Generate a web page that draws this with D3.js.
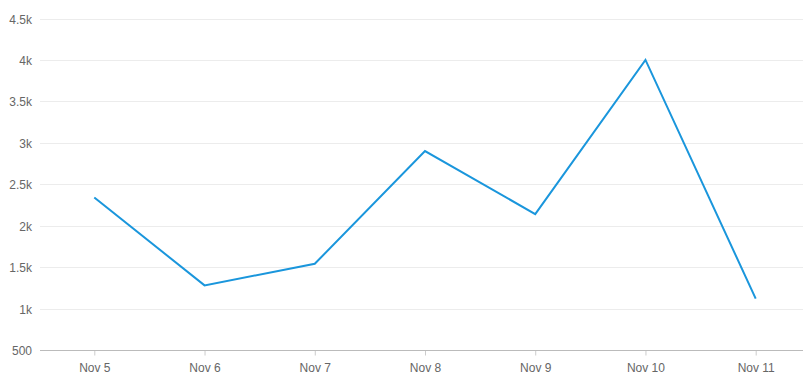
<!DOCTYPE html>
<html><head><meta charset="utf-8">
<script src="https://cdn.jsdelivr.net/npm/d3@7"></script>
<style>body{margin:0;background:#fff}svg{display:block;font-family:"Liberation Sans",Arial,sans-serif}</style>
</head><body><svg id="c" width="803" height="387"></svg>
<script>
const categories = ["Nov 5","Nov 6","Nov 7","Nov 8","Nov 9","Nov 10","Nov 11"];
const values = [2340, 1280, 1540, 2900, 2140, 4000, 1120];
const yTicks = [500,1000,1500,2000,2500,3000,3500,4000,4500];
const yTickLabels = ["500","1k","1.5k","2k","2.5k","3k","3.5k","4k","4.5k"];

(function(){
const svg = d3.select("#c");
const mLeft = 40, mRight = 803, mTop = 18.5, mBottom = 350;
const x = d3.scalePoint().domain(categories).range([94.3, 755.7]);
const y = d3.scaleLinear().domain([500, 4500]).range([mBottom, mTop]);

// grid
svg.append("g").selectAll("line").data(yTicks.slice(1)).join("line")
  .attr("x1", mLeft).attr("x2", mRight)
  .attr("y1", d => Math.round(y(d)) + 0.5).attr("y2", d => Math.round(y(d)) + 0.5)
  .attr("stroke", "#ececec").attr("stroke-width", 1);

// y labels
svg.append("g").selectAll("text").data(yTicks).join("text")
  .attr("x", 32).attr("y", d => y(d) + 5)
  .attr("text-anchor", "end").attr("font-size", 12).attr("fill", "#666")
  .text((d, i) => yTickLabels[i]);

// x axis
const xAxis = d3.axisBottom(x).tickSize(5).tickPadding(8);
const gx = svg.append("g").attr("transform", `translate(0,${mBottom + 0.5})`).call(xAxis);
gx.select(".domain").remove();
gx.append("line").attr("x1", mLeft).attr("x2", mRight).attr("y1", 0).attr("y2", 0)
  .attr("stroke", "#bbb");
gx.selectAll(".tick line").attr("stroke", "#ccc");
gx.selectAll(".tick text").attr("font-size", 12).attr("fill", "#666")
  .attr("font-family", "'Liberation Sans', Arial, sans-serif");

// line
const line = d3.line().x((d, i) => x(categories[i])).y(d => y(d));
svg.append("path").datum(values).attr("d", line)
  .attr("fill", "none").attr("stroke", "#1a96dc").attr("stroke-width", 2)
  .attr("stroke-linejoin", "miter");
})();
</script></body></html>
